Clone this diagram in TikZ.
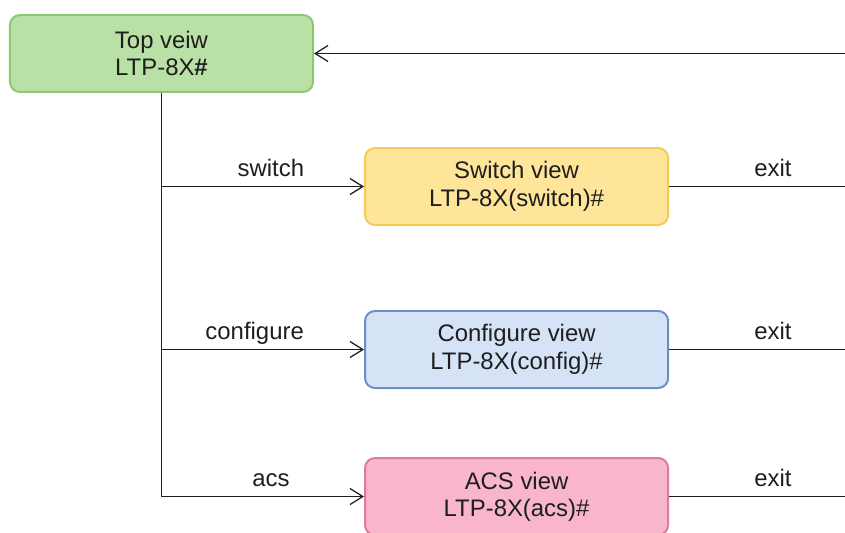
\documentclass[tikz,border=0pt]{standalone}
\usepackage{fontspec}
\setmainfont{Liberation Sans}
\usetikzlibrary{arrows.meta, positioning}
\definecolor{topfill}{HTML}{B9E0A5}
\definecolor{topline}{HTML}{8CC873}
\definecolor{swfill}{HTML}{FFE599}
\definecolor{swline}{HTML}{F2CC55}
\definecolor{cfgfill}{HTML}{D6E2F5}
\definecolor{cfgline}{HTML}{6A8FC6}
\definecolor{acsfill}{HTML}{F8B5CC}
\definecolor{acsline}{HTML}{E07A98}
\definecolor{ink}{HTML}{1E1E1E}

\begin{document}
\begin{tikzpicture}[x=0.025cm, y=-0.025cm,
    view/.style={draw, rectangle, rounded corners=0.25cm, minimum width=7.575cm, minimum height=1.925cm, line width=1.4pt, align=center, text=ink, font=\fontsize{17}{19.5}\selectfont},
    wire/.style={line width=0.9pt, ink},
    link/.style={wire, ->, >={Straight Barb[length=0.32cm, width=0.4cm]}},
    tag/.style={above=7pt, inner sep=0pt, text depth=0pt, text=ink, font=\fontsize{17}{19.5}\selectfont}
]
\useasboundingbox (0,0) rectangle (845,532);

\node[view, draw=topline, fill=topfill] (top) at (161.5,53.5) {Top veiw\\LTP-8X\textbf{\#}};
\node[view, draw=swline, fill=swfill, below right=1.35cm and 1.25cm of top] (switch) {Switch view\\LTP-8X(switch)\#};
\node[view, draw=cfgline, fill=cfgfill, below=2.1cm of switch] (config) {Configure view\\LTP-8X(config)\#};
\node[view, draw=acsline, fill=acsfill, below=1.7cm of config] (acs) {ACS view\\LTP-8X(acs)\#};

\coordinate (back) at (845,0);

\draw[link] (top.south) |- node[tag, pos=0.77] {switch} (switch.west);
\draw[link] (top.south) |- node[tag, pos=0.73] {configure} (config.west);
\draw[link] (top.south) |- node[tag, pos=0.77] {acs} (acs.west);

\draw[wire] (switch.east) -- node[tag, pos=0.59] {exit} (switch.east -| back);
\draw[wire] (config.east) -- node[tag, pos=0.59] {exit} (config.east -| back);
\draw[wire] (acs.east) -- node[tag, pos=0.59] {exit} (acs.east -| back);
\draw[link] (top.east -| back) -- (top.east);
\end{tikzpicture}
\end{document}
